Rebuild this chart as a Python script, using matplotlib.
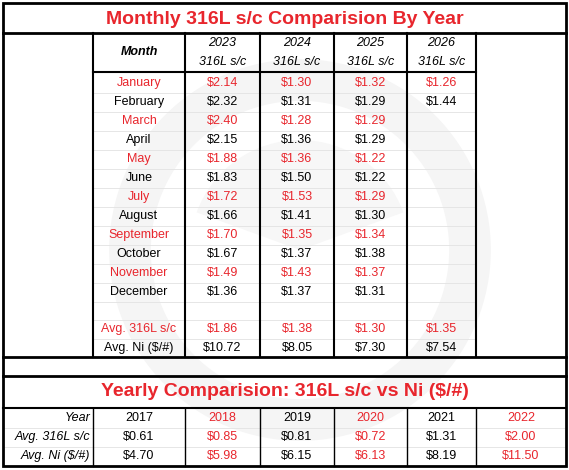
import matplotlib
matplotlib.use("Agg")
import matplotlib.pyplot as plt
from matplotlib.patches import Rectangle, Circle, Wedge

months = ["January","February","March","April","May","June","July","August",
          "September","October","November","December"]
years = ["2023","2024","2025","2026"]
v2023 = ["$2.14","$2.32","$2.40","$2.15","$1.88","$1.83","$1.72","$1.66","$1.70","$1.67","$1.49","$1.36"]
v2024 = ["$1.30","$1.31","$1.28","$1.36","$1.36","$1.50","$1.53","$1.41","$1.35","$1.37","$1.43","$1.37"]
v2025 = ["$1.32","$1.29","$1.29","$1.29","$1.22","$1.22","$1.29","$1.30","$1.34","$1.38","$1.37","$1.31"]
v2026 = ["$1.26","$1.44","","","","","","","","","",""]
avg316 = ["$1.86","$1.38","$1.30","$1.35"]
avgni = ["$10.72","$8.05","$7.30","$7.54"]
yyears = ["2017","2018","2019","2020","2021","2022"]
y316 = ["$0.61","$0.85","$0.81","$0.72","$1.31","$2.00"]
yni = ["$4.70","$5.98","$6.15","$6.13","$8.19","$11.50"]

RED = "#E8262D"
FONT = "Liberation Sans"
FS = 9
fig = plt.figure(figsize=(5.69, 4.70), dpi=100)
ax = fig.add_axes([0, 0, 1, 1])
ax.set_xlim(0, 569); ax.set_ylim(470, 0); ax.axis("off")

# watermark
ax.add_patch(Circle((300, 250), 170, fc="none", ec="#f5f5f5", lw=30, zorder=0))
ax.add_patch(Wedge((300, 250), 110, 200, 340, fc="#f7f7f7", ec="none", zorder=0))

def hl(y, x0=3, x1=566, c="black", lw=1):
    ax.plot([x0, x1], [y, y], color=c, lw=lw, zorder=2)
def vl(x, y0, y1, c="black", lw=1):
    ax.plot([x, x], [y0, y1], color=c, lw=lw, zorder=2)

cols = [93, 185, 260, 334, 407, 476]
ax.text(284.5, 19, "Monthly 316L s/c Comparision By Year", color=RED, fontsize=14,
        fontweight="bold", ha="center", va="center", family=FONT)
hl(33, lw=2)
ax.text((cols[0]+cols[1])/2, 52, "Month", fontsize=FS, style="italic", fontweight="bold",
        ha="center", va="center", family=FONT)
for i, y in enumerate(years):
    cx = (cols[i+1]+cols[i+2])/2
    ax.text(cx, 43, y, fontsize=FS, style="italic", ha="center", va="center", family=FONT)
    ax.text(cx, 62, "316L s/c", fontsize=FS, style="italic", ha="center", va="center", family=FONT)
hl(72, cols[0], cols[-1], lw=1.5)
cent = [83 + i*19.0 for i in range(12)] + [311, 329, 348]
for i, m in enumerate(months):
    c = RED if i % 2 == 0 else "black"
    y = cent[i]
    ax.text((cols[0]+cols[1])/2, y, m, color=c, fontsize=FS, ha="center", va="center", family=FONT)
    for j, ser in enumerate([v2023, v2024, v2025, v2026]):
        ax.text((cols[j+1]+cols[j+2])/2, y, ser[i], color=c, fontsize=FS,
                ha="center", va="center", family=FONT)
for k in range(1, 15):
    yb = (cent[k-1]+cent[k])/2
    hl(yb, cols[0], cols[-1], c="#e2e2e2", lw=0.6)
for lab, ser, c, y in [("Avg. 316L s/c", avg316, RED, 329), ("Avg. Ni ($/#)", avgni, "black", 348)]:
    ax.text((cols[0]+cols[1])/2, y, lab, color=c, fontsize=FS, ha="center", va="center", family=FONT)
    for j in range(4):
        ax.text((cols[j+1]+cols[j+2])/2, y, ser[j], color=c, fontsize=FS,
                ha="center", va="center", family=FONT)
for x in cols:
    vl(x, 33, 357, lw=1.5)
hl(357, lw=2)
hl(376, lw=2)
ax.text(284.5, 392, "Yearly Comparision: 316L s/c vs Ni ($/#)", color=RED, fontsize=14,
        fontweight="bold", ha="center", va="center", family=FONT)
hl(408, lw=1.5)
lcols = [3, 93, 185, 260, 334, 407, 476, 566]
rows = [("Year", yyears, 418), ("Avg. 316L s/c", y316, 437), ("Avg. Ni ($/#)", yni, 456)]
for lab, ser, y in rows:
    ax.text(90, y, lab, fontsize=FS, style="italic", ha="right", va="center", family=FONT)
    for j, v in enumerate(ser):
        c = RED if j % 2 == 1 else "black"
        ax.text((lcols[j+1]+lcols[j+2])/2, y, v, color=c, fontsize=FS,
                ha="center", va="center", family=FONT)
hl(427.5, 3, 566, c="#e2e2e2", lw=0.6)
hl(446.5, 3, 566, c="#e2e2e2", lw=0.6)
for x in lcols[1:-1]:
    vl(x, 408, 466, lw=1)
ax.add_patch(Rectangle((3, 3), 563, 463, fc="none", ec="black", lw=2, zorder=3))
fig.savefig("out.png", dpi=100)
